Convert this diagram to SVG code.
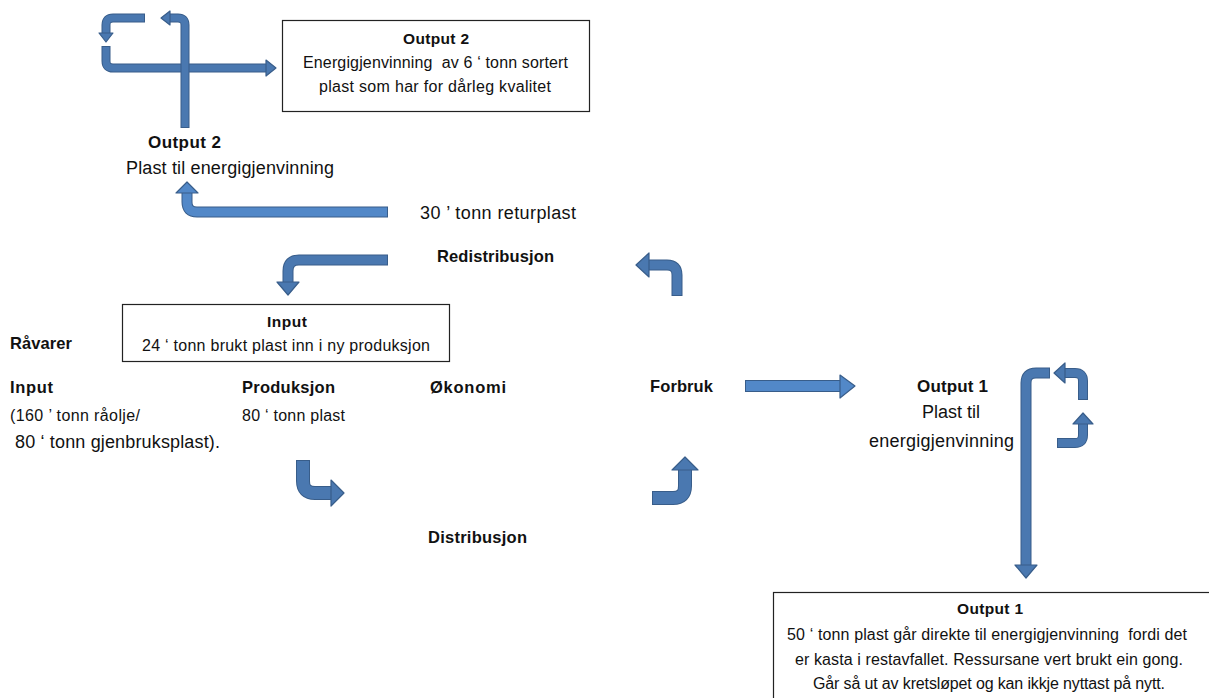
<svg xmlns="http://www.w3.org/2000/svg" width="1209" height="698" viewBox="0 0 1209 698">
<style>
.o{fill:none;stroke:#385d8a;stroke-linejoin:round}
.f{fill:none;stroke:#4a78b0;stroke-linejoin:round}
.fl{fill:none;stroke:#5288c8;stroke-linejoin:round}
.h{fill:#4a78b0;stroke:#385d8a;stroke-width:1.2;stroke-linejoin:round}
.hl{fill:#5288c8;stroke:#385d8a;stroke-width:1.2;stroke-linejoin:round}
.t{font-family:"Liberation Sans",Arial,sans-serif;fill:#111}
.b{font-weight:bold}
.box{fill:#fff;stroke:#222;stroke-width:1.2}
</style>
<rect width="1209" height="698" fill="#fff"/>
<g id="connectors">
  <g id="a-top-horiz">
    <path class="o" stroke-width="9" d="M106,46 V61 Q106,68 113,68 H267"/>
    <path class="f" stroke-width="7" d="M106,47 V61 Q106,68 113,68 H267"/>
    <polygon class="h" points="266,60 276,68 266,76"/>
  </g>
  <g id="a-top-left">
    <path class="o" stroke-width="9" d="M145,18 H113 Q106,18 106,25 V34"/>
    <path class="f" stroke-width="7" d="M144,18 H113 Q106,18 106,25 V34"/>
    <polygon class="h" points="99,33 113,33 106,42"/>
  </g>
  <g id="a-top-vert">
    <path class="o" stroke-width="9" d="M185,128 V25 Q185,18 178,18 H169"/>
    <path class="f" stroke-width="7" d="M185,127 V25 Q185,18 178,18 H169"/>
    <polygon class="h" points="170,11 170,25 161,18"/>
  </g>
  <g id="a-return">
    <path class="o" stroke-width="11" d="M388,212 H197 Q187,212 187,202 V192"/>
    <path class="fl" stroke-width="9" d="M387,212 H197 Q187,212 187,202 V192"/>
    <polygon class="hl" points="176,193 198,193 187,182"/>
  </g>
  <g id="a-redist">
    <path class="o" stroke-width="11" d="M388,260 H299 Q288,260 288,271 V283"/>
    <path class="f" stroke-width="9" d="M387,260 H299 Q288,260 288,271 V283"/>
    <polygon class="h" points="277,282 299,282 288,295"/>
  </g>
  <g id="a-forbruk-up">
    <path class="o" stroke-width="11" d="M677,296 V275 Q677,265 667,265 H648"/>
    <path class="f" stroke-width="9" d="M677,295 V275 Q677,265 667,265 H648"/>
    <polygon class="h" points="649,253 649,277 636,265"/>
  </g>
  <g id="a-forbruk-right">
    <path class="o" stroke-width="12" d="M745,386 H841"/>
    <path class="fl" stroke-width="10" d="M746,386 H841"/>
    <polygon class="hl" points="840,375 855,386 840,398"/>
  </g>
  <g id="a-prod">
    <path class="o" stroke-width="14" d="M303,460 V481 Q303,493 315,493 H332"/>
    <path class="f" stroke-width="12" d="M303,461 V481 Q303,493 315,493 H332"/>
    <polygon class="h" points="331,480 344,493 331,506"/>
  </g>
  <g id="a-dist">
    <path class="o" stroke-width="14" d="M652,498 H673 Q685,498 685,486 V469"/>
    <path class="f" stroke-width="12" d="M653,498 H673 Q685,498 685,486 V469"/>
    <polygon class="h" points="672,470 698,470 685,457"/>
  </g>
  <g id="a-right-long">
    <path class="o" stroke-width="11" d="M1050,373 H1036 Q1026,373 1026,383 V566"/>
    <path class="f" stroke-width="9" d="M1049,373 H1036 Q1026,373 1026,383 V566"/>
    <polygon class="h" points="1015,565 1037,565 1026,578"/>
  </g>
  <g id="a-right-small1">
    <path class="o" stroke-width="10" d="M1083,400 V381 Q1083,373 1075,373 H1064"/>
    <path class="f" stroke-width="8" d="M1083,399 V381 Q1083,373 1075,373 H1064"/>
    <polygon class="h" points="1065,363 1065,383 1054,373"/>
  </g>
  <g id="a-right-small2">
    <path class="o" stroke-width="10" d="M1057,443 H1075 Q1083,443 1083,435 V423"/>
    <path class="f" stroke-width="8" d="M1058,443 H1075 Q1083,443 1083,435 V423"/>
    <polygon class="h" points="1073,424 1093,424 1083,413"/>
  </g>
</g>
<g id="node-output2-box">
  <rect class="box" x="282.5" y="20.5" width="307" height="91"/>
  <text class="t b" x="403" y="44" font-size="15.5" textLength="66">Output 2</text>
  <text class="t" x="303" y="68" font-size="16" textLength="265" xml:space="preserve">Energigjenvinning  av 6 ‘ tonn sortert</text>
  <text class="t" x="319" y="92" font-size="16" textLength="232">plast som har for dårleg kvalitet</text>
</g>
<g id="node-output2">
  <text class="t b" x="148" y="148" font-size="17" textLength="73">Output 2</text>
  <text class="t" x="126" y="174" font-size="18" textLength="208">Plast til energigjenvinning</text>
</g>
<g id="node-returplast">
  <text class="t" x="420" y="219" font-size="18" textLength="156">30 ’ tonn returplast</text>
</g>
<g id="node-redistribusjon">
  <text class="t b" x="437" y="262" font-size="16.5" textLength="117">Redistribusjon</text>
</g>
<g id="node-input-box">
  <rect class="box" x="122.5" y="304.5" width="327" height="57"/>
  <text class="t b" x="267" y="327" font-size="15.5" textLength="40">Input</text>
  <text class="t" x="142" y="351" font-size="16" textLength="288">24 ‘ tonn brukt plast inn i ny produksjon</text>
</g>
<g id="node-ravarer">
  <text class="t b" x="10" y="349" font-size="16.5" textLength="62">Råvarer</text>
</g>
<g id="node-input">
  <text class="t b" x="10" y="393" font-size="16.5" textLength="43">Input</text>
  <text class="t" x="10" y="421" font-size="16" textLength="130">(160 ’ tonn råolje/</text>
  <text class="t" x="15" y="448" font-size="18" textLength="205">80 ‘ tonn gjenbruksplast).</text>
</g>
<g id="node-produksjon">
  <text class="t b" x="242" y="393" font-size="16.5" textLength="93">Produksjon</text>
  <text class="t" x="242" y="421" font-size="16" textLength="103">80 ‘ tonn plast</text>
</g>
<g id="node-okonomi">
  <text class="t b" x="430" y="393" font-size="16.5" textLength="76">Økonomi</text>
</g>
<g id="node-forbruk">
  <text class="t b" x="650" y="392" font-size="16.5" textLength="63">Forbruk</text>
</g>
<g id="node-distribusjon">
  <text class="t b" x="428" y="543" font-size="16.5" textLength="99">Distribusjon</text>
</g>
<g id="node-output1">
  <text class="t b" x="917" y="392" font-size="17" textLength="71">Output 1</text>
  <text class="t" x="922" y="418" font-size="18" textLength="58">Plast til</text>
  <text class="t" x="869" y="447" font-size="18" textLength="145">energigjenvinning</text>
</g>
<g id="node-output1-box">
  <rect class="box" x="773.5" y="592.5" width="440" height="110"/>
  <text class="t b" x="957" y="614" font-size="15.5" textLength="66">Output 1</text>
  <text class="t" x="787" y="640" font-size="16" textLength="400" xml:space="preserve">50 ‘ tonn plast går direkte til energigjenvinning  fordi det</text>
  <text class="t" x="795" y="665" font-size="16" textLength="388">er kasta i restavfallet. Ressursane vert brukt ein gong.</text>
  <text class="t" x="813" y="689" font-size="16" textLength="352">Går så ut av kretsløpet og kan ikkje nyttast på nytt.</text>
</g>
</svg>
